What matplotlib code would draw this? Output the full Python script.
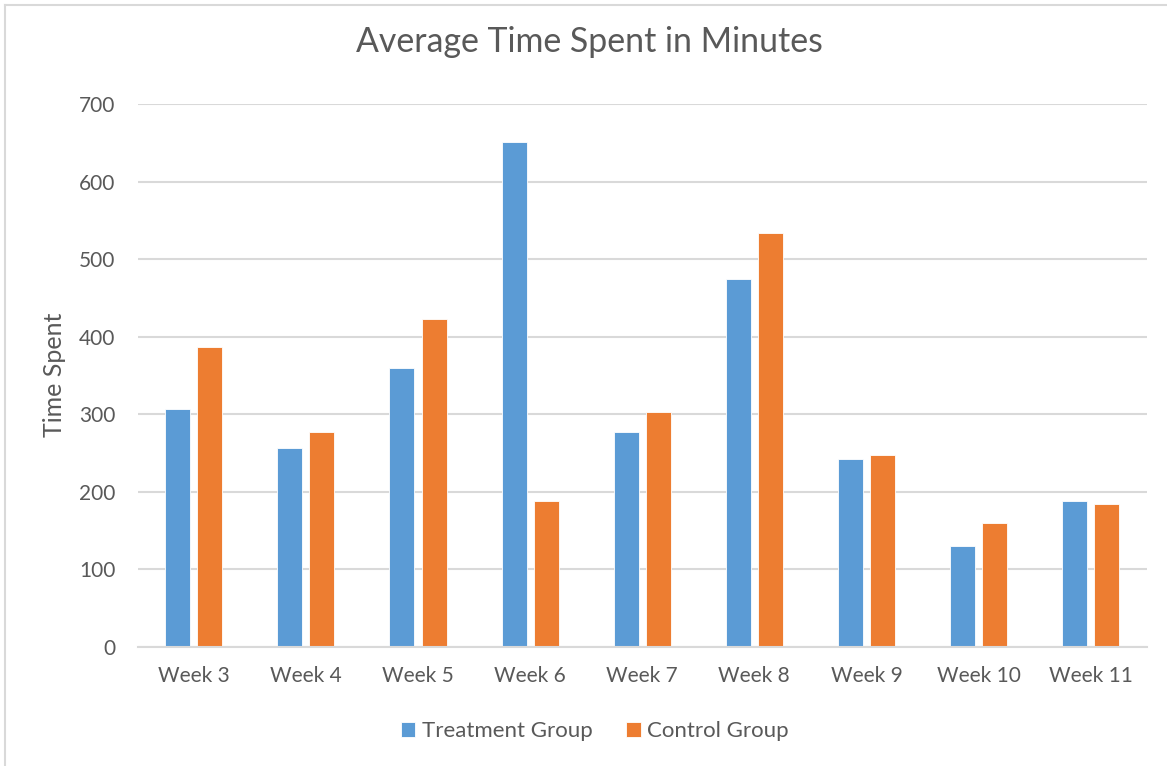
import matplotlib
matplotlib.use("Agg")
import matplotlib.pyplot as plt
from matplotlib.lines import Line2D
import numpy as np

# ---------------------------------------------------------------------------
# Data
# ---------------------------------------------------------------------------
weeks = ["Week 3", "Week 4", "Week 5", "Week 6", "Week 7",
         "Week 8", "Week 9", "Week 10", "Week 11"]
treatment = [307, 256, 359, 651, 277, 474, 242, 130, 188]
control = [387, 277, 423, 188, 303, 534, 247, 160, 184]
series_names = ["Treatment Group", "Control Group"]
y_ticks = [0, 100, 200, 300, 400, 500, 600, 700]

BLUE = "#5B9BD5"
ORANGE = "#ED7D31"
TEXT = "#595959"
GRID = "#D9D9D9"

plt.rcParams["font.family"] = ["Lato", "DejaVu Sans"]

W, H = 1167, 766
fig = plt.figure(figsize=(W / 100, H / 100), dpi=100)
ax = fig.add_axes([137.7 / W, 1 - 646.7 / H,
                   (1146.7 - 137.7) / W, (646.7 - 104) / H])

x = np.arange(len(weeks))
width = 0.223
offset = 0.143
ax.bar(x - offset, treatment, width, color=BLUE, edgecolor="white",
       linewidth=0.6, label=series_names[0], zorder=3)
ax.bar(x + offset, control, width, color=ORANGE, edgecolor="white",
       linewidth=0.6, label=series_names[1], zorder=3)

ax.set_xlim(-0.5, len(weeks) - 0.5)
ax.set_ylim(0, 700)
ax.set_yticks(y_ticks)
ax.set_xticks(x)
ax.set_xticklabels(weeks)
ax.tick_params(axis="both", length=0, labelsize=15, labelcolor=TEXT)
ax.tick_params(axis="x", pad=14)
ax.tick_params(axis="y", pad=16)
ax.yaxis.grid(True, color=GRID, linewidth=1.5, zorder=0)
for side in ("top", "right", "left"):
    ax.spines[side].set_visible(False)
ax.spines["bottom"].set_color(GRID)
ax.spines["bottom"].set_linewidth(1.5)
ax.spines["bottom"].set_zorder(4)

fig.text(589 / W, 1 - 52 / H, "Average Time Spent in Minutes",
         ha="center", va="baseline", fontsize=24.4, color=TEXT)
fig.text(55 / W, 1 - 375 / H, "Time Spent", rotation=90,
         ha="center", va="center", fontsize=18, color=TEXT)

leg = fig.legend(loc="center", bbox_to_anchor=(595 / W, 1 - 731 / H),
                 ncol=2, frameon=False, fontsize=16, handlelength=0.65,
                 handleheight=0.65, handletextpad=0.3, columnspacing=1.5)
for t in leg.get_texts():
    t.set_color(TEXT)

# light outer chart frame (cropped at right and bottom)
fig.add_artist(Line2D([5 / W, 5 / W], [0, 1 - 5 / H], color=GRID,
                      linewidth=1.5, transform=fig.transFigure))
fig.add_artist(Line2D([5 / W, 1], [1 - 5 / H, 1 - 5 / H], color=GRID,
                      linewidth=1.5, transform=fig.transFigure))

fig.savefig("out.png", dpi=100)
